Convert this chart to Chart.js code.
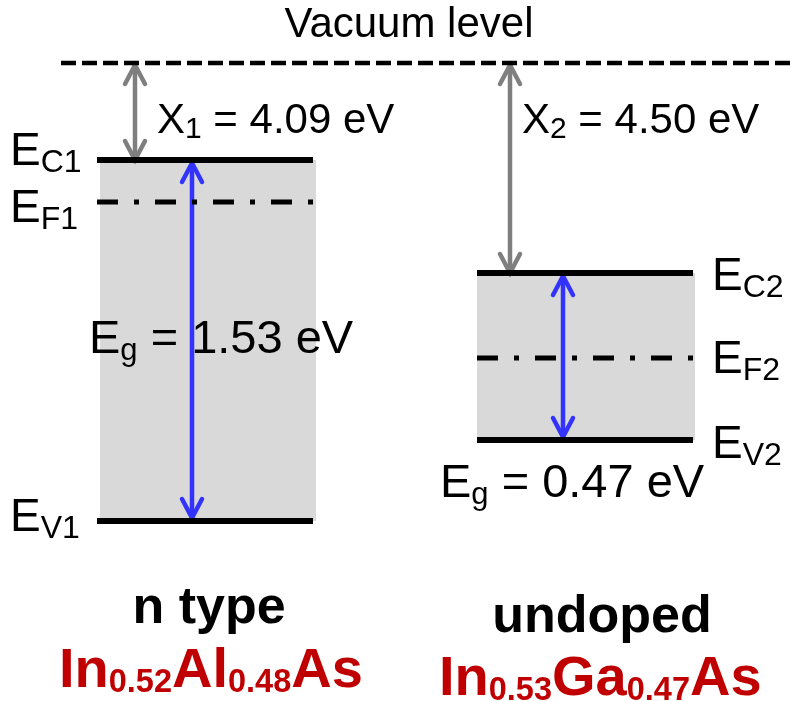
<!DOCTYPE html>
<html>
<head>
<meta charset="utf-8">
<script src="https://cdn.jsdelivr.net/npm/chart.js@4.4.1/dist/chart.umd.min.js"></script>
<style>
  html, body { margin: 0; padding: 0; background: #fff; }
  #wrap { width: 790px; height: 701px; }
</style>
</head>
<body>
<div id="wrap"><canvas id="band" width="790" height="701"></canvas></div>
<script>
// levels in diagram units, counted down from the top of the figure (not to scale)
var materials = ["n type", "undoped"];
var vacuumLevel = 63;
var conductionBand = [160, 273];
var fermiLevel = [202, 358];
var valenceBand = [521, 440];
// energies printed on the figure (eV)
var electronAffinity = [4.09, 4.50];
var bandGap = [1.53, 0.47];
// alloy formulas
var formulaElements = [["In", "Al", "As"], ["In", "Ga", "As"]];
var formulaFractions = [["0.52", "0.48"], ["0.53", "0.47"]];
var levelTags = [["C1", "F1", "V1"], ["C2", "F2", "V2"]];

// layout (diagram units)
var lineSpan = [[97, 313], [477, 693]];
var boxSpan = [[100, 316], [477, 695]];
var affinityArrowX = [135, 510];
var gapArrowX = [192, 563];
var vacuumSpan = [61, 790];

var FONT = '"Liberation Sans", Arial, sans-serif';
var GRAY = "#7f7f7f";
var BLUE = "#3333ff";
var RED = "#c00000";

function hline(x0, x1, y) {
  return [{ x: x0, y: y }, { x: x1, y: y }];
}
function vline(x, y0, y1) {
  return [{ x: x, y: y0 }, { x: x, y: y1 }];
}

var datasets = [];
datasets.push({
  data: hline(vacuumSpan[0], vacuumSpan[1], vacuumLevel),
  borderColor: "#000", borderWidth: 4.5, borderDash: [15, 6], order: 1
});
materials.forEach(function (m, i) {
  datasets.push({
    data: hline(boxSpan[i][0], boxSpan[i][1], conductionBand[i]),
    borderWidth: 0, borderColor: "rgba(0,0,0,0)",
    backgroundColor: "#d9d9d9", fill: { value: valenceBand[i] }, order: 5
  });
  datasets.push({
    data: hline(lineSpan[i][0], lineSpan[i][1], conductionBand[i]),
    borderColor: "#000", borderWidth: 6, order: 1
  });
  datasets.push({
    data: hline(lineSpan[i][0], lineSpan[i][1], valenceBand[i]),
    borderColor: "#000", borderWidth: 6, order: 1
  });
  datasets.push({
    data: hline(lineSpan[i][0], lineSpan[i][1], fermiLevel[i]),
    borderColor: "#000", borderWidth: 5, borderDash: [21, 16, 5, 16], order: 1
  });
  datasets.push({
    data: vline(affinityArrowX[i], vacuumLevel + 2, conductionBand[i]),
    borderColor: GRAY, borderWidth: 4.5, order: 3, arrow: true
  });
  datasets.push({
    data: vline(gapArrowX[i], conductionBand[i] + 3, valenceBand[i] - 3),
    borderColor: BLUE, borderWidth: 4.5, order: 3, arrow: true
  });
});

// chevron heads on both ends of the arrow datasets
var arrowHeads = {
  id: "arrowHeads",
  afterDatasetDraw: function (chart, args) {
    var ds = chart.data.datasets[args.index];
    if (!ds.arrow) return;
    var pts = args.meta.data;
    var ctx = chart.ctx;
    ctx.save();
    ctx.strokeStyle = ds.borderColor;
    ctx.lineWidth = 4.5;
    ctx.lineJoin = "miter";
    ctx.lineCap = "round";
    [[pts[0], pts[1]], [pts[1], pts[0]]].forEach(function (pair) {
      var tip = pair[0], other = pair[1];
      var dir = other.y > tip.y ? 1 : -1;
      ctx.beginPath();
      ctx.moveTo(tip.x - 10, tip.y + 19 * dir);
      ctx.lineTo(tip.x, tip.y);
      ctx.lineTo(tip.x + 10, tip.y + 19 * dir);
      ctx.stroke();
    });
    ctx.restore();
  }
};

function drawRuns(ctx, runs, x, y, align) {
  var total = 0;
  runs.forEach(function (r) {
    ctx.font = (r.bold ? "bold " : "") + r.size + "px " + FONT;
    r.w = ctx.measureText(r.t).width;
    total += r.w;
  });
  if (align === "center") x -= total / 2;
  ctx.textAlign = "left";
  ctx.textBaseline = "alphabetic";
  runs.forEach(function (r) {
    ctx.font = (r.bold ? "bold " : "") + r.size + "px " + FONT;
    ctx.fillText(r.t, x, y + (r.dy || 0));
    x += r.w;
  });
}

var labels = {
  id: "labels",
  afterDraw: function (chart) {
    var ctx = chart.ctx;
    var sx = chart.scales.x, sy = chart.scales.y;
    var px = function (v) { return sx.getPixelForValue(v); };
    var py = function (v) { return sy.getPixelForValue(v); };
    ctx.save();
    ctx.fillStyle = "#000";
    drawRuns(ctx, [{ t: "Vacuum level", size: 42 }], px(409), py(vacuumLevel) - 26, "center");

    // level tags
    var tagX = [10, 712];
    var tagDy = [[5, 20, 10], [17, 15, 18]];
    materials.forEach(function (m, i) {
      var lv = [conductionBand[i], fermiLevel[i], valenceBand[i]];
      lv.forEach(function (v, k) {
        drawRuns(ctx, [
          { t: "E", size: 46 },
          { t: levelTags[i][k], size: 32, dy: 7 }
        ], px(tagX[i]), py(v) + tagDy[i][k]);
      });
    });

    // electron affinity
    var affX = [157, 522];
    materials.forEach(function (m, i) {
      drawRuns(ctx, [
        { t: "X", size: 42 },
        { t: String(i + 1), size: 30, dy: 5 },
        { t: " = " + electronAffinity[i].toFixed(2) + " eV", size: 42 }
      ], px(affX[i]), py(vacuumLevel) + 70);
    });

    // band gaps
    drawRuns(ctx, [
      { t: "E", size: 47 }, { t: "g", size: 31, dy: 7 },
      { t: " = " + bandGap[0].toFixed(2) + " eV", size: 47 }
    ], px(89), py(353));
    drawRuns(ctx, [
      { t: "E", size: 47 }, { t: "g", size: 31, dy: 7 },
      { t: " = " + bandGap[1].toFixed(2) + " eV", size: 47 }
    ], px(440), py(valenceBand[1]) + 57);

    // material names and formulas
    var nameX = [209, 602], nameY = [623, 632];
    var formX = [59, 439], formY = [687, 695];
    materials.forEach(function (m, i) {
      ctx.fillStyle = "#000";
      drawRuns(ctx, [{ t: m, size: 52, bold: true }], px(nameX[i]), py(nameY[i]), "center");
      ctx.fillStyle = RED;
      var el = formulaElements[i], fr = formulaFractions[i];
      drawRuns(ctx, [
        { t: el[0], size: 56, bold: true },
        { t: fr[0], size: 32.5, bold: true, dy: 5 },
        { t: el[1], size: 56, bold: true },
        { t: fr[1], size: 32.5, bold: true, dy: 5 },
        { t: el[2], size: 56, bold: true }
      ], px(formX[i]), py(formY[i]));
    });
    ctx.restore();
  }
};

new Chart(document.getElementById("band"), {
  type: "line",
  data: { datasets: datasets },
  options: {
    responsive: false,
    animation: false,
    devicePixelRatio: 1,
    layout: { padding: 0 },
    elements: {
      point: { radius: 0, hoverRadius: 0 },
      line: { tension: 0, borderCapStyle: "butt", fill: false }
    },
    scales: {
      x: { type: "linear", min: 0, max: 790, display: false },
      y: { type: "linear", min: 0, max: 701, reverse: true, display: false }
    },
    plugins: {
      legend: { display: false },
      tooltip: { enabled: false }
    }
  },
  plugins: [arrowHeads, labels]
});
</script>
</body>
</html>
